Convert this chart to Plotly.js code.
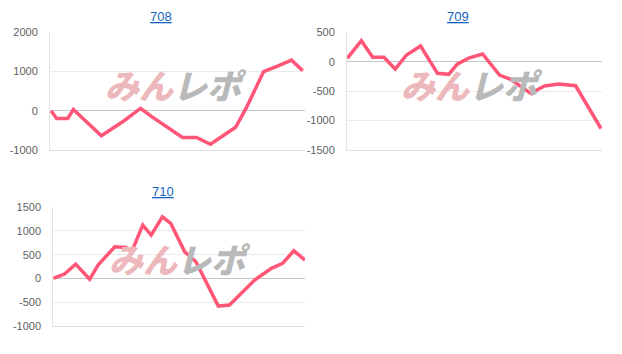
<!DOCTYPE html>
<html>
<head>
<meta charset="utf-8">
<script src="https://cdn.plot.ly/plotly-3.0.1.min.js"></script>
<style>
html,body{margin:0;padding:0;background:#fff;}
#chart{width:622px;height:354px;}
</style>
</head>
<body>
<div id="chart"></div>
<script>
// Machine names (subplot titles)
const titles = ["708", "709", "710"];

// Cumulative difference series (x = time step, y = value)
const x708 = [0, 2, 6, 8, 18, 26, 32, 36, 47, 52, 57, 62, 66, 70, 76, 81, 86, 90];
const y708 = [0, -195, -195, 35, -635, -260, 60, -150, -680, -680, -855, -620, -420, 100, 1000, 1140, 1290, 1020];

const x709 = [0, 5, 9, 13, 17, 21, 26, 32, 36, 39, 43, 48, 54, 58, 65, 70, 75, 81, 90];
const y709 = [58, 357, 75, 75, -124, 114, 267, -197, -214, -40, 60, 131, -226, -299, -537, -413, -379, -408, -1135];

const x710 = [0, 4, 8, 13, 16, 22, 26, 28, 32, 35, 39, 42, 47, 51, 59, 63, 72, 78, 82, 86, 90];
const y710 = [0, 90, 300, -20, 280, 667, 653, 560, 1125, 913, 1300, 1160, 560, 350, -585, -563, -35, 210, 316, 582, 386];

// Y axis tick values
const ticks708 = [-1000, 0, 1000, 2000];
const ticks709 = [-1500, -1000, -500, 0, 500];
const ticks710 = [-1000, -500, 0, 500, 1000, 1500];

const lineColor = "#ff5577";
const W = 622, H = 354;
const px = v => v / W;
const py = v => 1 - v / H;

function trace(x, y, xa, ya) {
  return {x: x, y: y, xaxis: xa, yaxis: ya, type: "scatter", mode: "lines",
    line: {color: lineColor, width: 3.5}, hoverinfo: "skip", showlegend: false};
}

const data = [
  trace(x708, y708, "x", "y"),
  trace(x709, y709, "x2", "y2"),
  trace(x710, y710, "x3", "y3")
];

function xax(dom, rng, anchor) {
  return {domain: dom, range: rng, anchor: anchor, showgrid: false, zeroline: false,
    showticklabels: false, ticks: "", showline: true, linecolor: "#e0e0e0", linewidth: 1, fixedrange: true};
}
function yax(dom, rng, tv, anchor) {
  return {domain: dom, range: rng, anchor: anchor, tickvals: tv, ticktext: tv.map(String),
    showgrid: true, gridcolor: "#ebebeb", gridwidth: 1,
    zeroline: true, zerolinecolor: "#c4c4c4", zerolinewidth: 1,
    showline: true, linecolor: "#e4e4e4", linewidth: 1, ticks: "",
    ticklabelstandoff: 9,
    tickfont: {family: "Liberation Sans, Arial, sans-serif", size: 11, color: "#5f5f5f"}, fixedrange: true};
}

function titleAnn(text, xc, yc) {
  return {text: "<u>" + text + "</u>", xref: "paper", yref: "paper", x: px(xc), y: py(yc),
    xanchor: "center", yanchor: "middle", showarrow: false,
    font: {family: "Liberation Sans, Arial, sans-serif", size: 13, color: "#1565c0"}};
}
function markAnn(xc, yc) {
  return {text: "<i><span style='color:#ecb8bc'>みん</span><span style='color:#b9b9b9'>レポ</span></i>",
    xref: "paper", yref: "paper", x: px(xc), y: py(yc), xanchor: "center", yanchor: "middle",
    showarrow: false,
    font: {family: "Noto Sans CJK JP, sans-serif", size: 34, weight: 900, color: "#b9b9b9"}};
}

const layout = {
  width: W, height: H,
  margin: {l: 0, r: 0, t: 0, b: 0},
  paper_bgcolor: "#fff", plot_bgcolor: "#fff",
  showlegend: false,
  xaxis: xax([px(50), px(305)], [-0.36, 90.8], "y"),
  yaxis: yax([py(150), py(32.3)], [-1000, 2000], ticks708, "x"),
  xaxis2: xax([px(347), px(602)], [-0.1, 90.35], "y2"),
  yaxis2: yax([py(150), py(32.3)], [-1500, 500], ticks709, "x2"),
  xaxis3: xax([px(53.3), px(305)], [0, 90], "y3"),
  yaxis3: yax([py(325.7), py(207.3)], [-1000, 1500], ticks710, "x3"),
  annotations: [
    markAnn(176, 84), markAnn(472, 85), markAnn(180, 258),
    titleAnn(titles[0], 161, 16), titleAnn(titles[1], 457.7, 16), titleAnn(titles[2], 163.3, 191.5)
  ]
};

Plotly.newPlot("chart", data, layout, {displayModeBar: false, staticPlot: true});
</script>
</body>
</html>
